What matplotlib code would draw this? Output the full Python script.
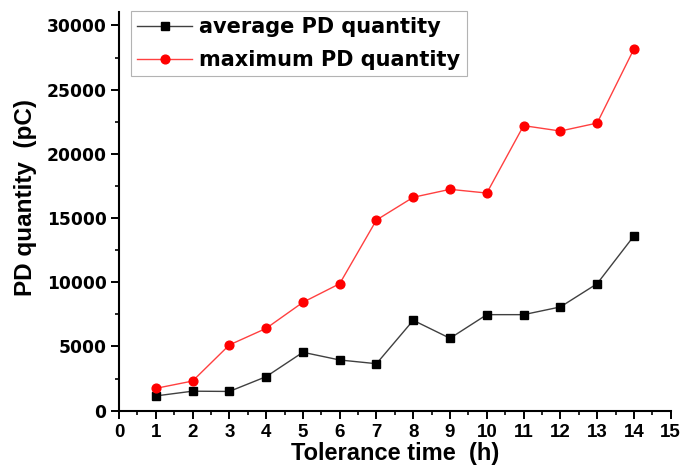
import matplotlib
matplotlib.use('Agg')
import matplotlib.pyplot as plt
from matplotlib.ticker import MultipleLocator

plt.rcParams['font.family'] = ['Liberation Sans', 'DejaVu Sans']
plt.rcParams['font.weight'] = 'bold'

tolerance_time = [1, 2, 3, 4, 5, 6, 7, 8, 9, 10, 11, 12, 13, 14]
average_pd = [1150, 1520, 1500, 2650, 4550, 3950, 3660, 7040, 5640, 7480, 7480, 8080, 9890, 13610]
maximum_pd = [1740, 2310, 5120, 6410, 8440, 9890, 14850, 16620, 17240, 16950, 22200, 21780, 22400, 28170]

W, H = 683, 466
fig = plt.figure(figsize=(W / 100, H / 100), dpi=100)
# axes box in pixels: left 119, right 671, top 12, bottom 411
ax = fig.add_axes([119 / W, 1 - 410.7 / H, (670.7 - 119) / W, (410.7 - 12) / H])

ax.plot(tolerance_time, average_pd, color='#404040', linewidth=1, marker='s',
        markersize=5.5, markerfacecolor='black', markeredgecolor='black',
        label='average PD quantity')
ax.plot(tolerance_time, maximum_pd, color='#ff4040', linewidth=1, marker='o',
        markersize=6.3, markerfacecolor='red', markeredgecolor='red',
        label='maximum PD quantity')

ax.set_xlim(0, 15)
ax.set_ylim(0, 31050)
ax.xaxis.set_major_locator(MultipleLocator(1))
ax.xaxis.set_minor_locator(MultipleLocator(0.5))
ax.yaxis.set_major_locator(MultipleLocator(5000))
ax.yaxis.set_minor_locator(MultipleLocator(2500))

for side in ['top', 'right']:
    ax.spines[side].set_visible(False)
for side in ['left', 'bottom']:
    ax.spines[side].set_linewidth(1.5)

ax.tick_params(which='major', direction='out', length=5.5, width=1.4)
ax.tick_params(which='minor', direction='out', length=3, width=1.2)
ax.tick_params(axis='x', which='major', labelsize=13.5, pad=4)
ax.tick_params(axis='y', which='major', labelsize=12.3, pad=3.5)
for lbl in ax.get_yticklabels():
    lbl.set_family('DejaVu Sans')

ax.set_xlabel('Tolerance time  (h)', fontsize=17, fontweight='bold')
ax.set_ylabel('PD quantity  (pC)', fontsize=17.5, fontweight='bold')
ax.xaxis.set_label_coords(0.5, -0.078)
ax.yaxis.set_label_coords(-0.149, 0.535)

leg = ax.legend(loc='upper left', bbox_to_anchor=(131 / W, 1 - 11 / H),
                bbox_transform=fig.transFigure, borderaxespad=0,
                prop={'family': 'DejaVu Sans', 'weight': 'bold', 'size': 15},
                frameon=True, fancybox=False, edgecolor='#a0a0a0',
                handlelength=2.64, borderpad=0.3, labelspacing=0.62, handletextpad=0.34)
leg.get_frame().set_linewidth(0.8)

fig.savefig('out.png', dpi=100)
